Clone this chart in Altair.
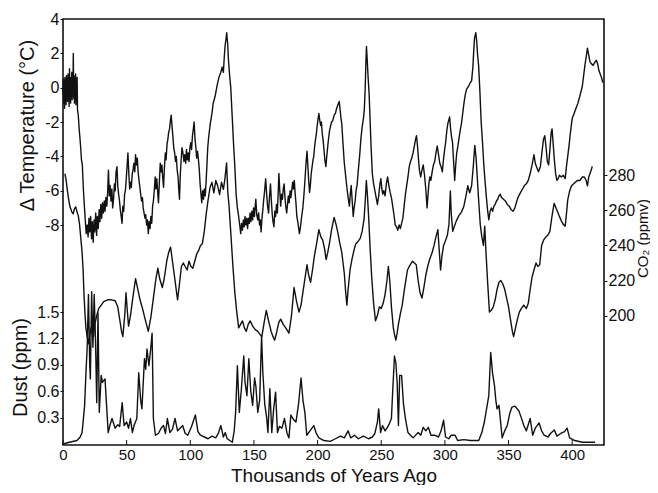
import altair as alt
import pandas as pd

# ---------------- data ----------------
temp_kyr = [0, 0.3, 0.6, 0.9, 1.2, 1.5, 1.8, 2.1, 2.4, 2.7, 3.0, 3.3, 3.6, 3.9, 4.2, 4.5, 4.8, 5.1, 5.4, 5.7,
            6.0, 6.3, 6.6, 6.9, 7.2, 7.5, 7.8, 8.1, 8.4, 8.7, 9.0, 9.3, 9.6, 9.9, 10.2, 10.5, 10.8, 11.1, 11.4,
            12, 12.7, 13.4, 14, 14.5, 15.2, 16, 16.8, 17.5, 18.2, 19, 19.7, 20.4, 21, 21.7, 22.4, 23, 23.7,
            24.4, 25, 25.7, 26.4, 27, 27.7, 28.4, 29, 29.7, 30.4, 31, 31.7, 32.4, 33, 33.7, 34.4, 35, 35.7,
            36.4, 37, 37.7, 38.4, 39, 39.7, 40.4, 41, 41.7, 42.4, 43, 43.7, 44.4, 45, 45.7, 46.4, 47, 47.7,
            48.4, 49, 49.7, 50.4, 51, 51.7, 52.4, 53, 53.7, 54.4, 55, 55.7, 56.4, 57, 57.7, 58.4, 59, 59.7,
            60.4, 61, 61.7, 62.4, 63, 63.7, 64.4, 65, 65.7, 66.4, 67, 67.7, 68.4, 69, 69.7, 70.4, 71, 71.7,
            72.4, 73, 73.7, 74.4, 75, 75.7, 76.4, 77, 77.7, 78.4, 79, 79.7, 80.4, 81, 81.7, 82.4, 83, 83.7,
            84.4, 85, 85.7, 86.4, 87, 87.7, 88.4, 89, 89.7, 90.4, 91, 91.5, 92.2, 92.8, 93.5, 94.2, 95, 95.7,
            96.4, 97, 97.7, 98.4, 99, 99.7, 100.4, 101, 101.7, 102.4, 103, 103.7, 104.4, 105, 105.7, 106.4,
            107, 107.7, 108.4, 109, 109.7, 110.4, 111, 111.7, 112.4, 113, 113.7, 114.4, 115.5, 117, 118,
            119.5, 121, 122.5, 124, 125, 126, 126.7, 127.4, 128, 128.6, 129.3, 130, 130.8, 131.8, 133, 134,
            135, 136, 137, 138, 139, 139.6, 140.3, 141, 141.7, 142.4, 143, 143.7, 144.4, 145, 145.7, 146.4,
            147, 147.7, 148.4, 149, 149.7, 150.4, 151, 151.5, 152.2, 153, 153.7, 154.4, 155, 155.6, 156.3,
            157, 157.7, 158.4, 159.2, 160, 160.7, 161.5, 162.2, 163, 163.7, 164.4, 165, 165.7, 166.4, 167,
            167.7, 168.4, 169, 169.6, 170.3, 171, 171.7, 172.4, 173, 173.7, 174.4, 175, 175.7, 176.4, 177,
            177.7, 178.4, 179, 179.7, 180.4, 181, 181.7, 182.4, 183, 183.7, 184.4, 185, 185.7, 186.4, 187,
            187.7, 188.4, 189, 189.7, 190.4, 191, 191.7, 192.4, 193, 193.7, 194.4, 195, 195.7, 196.4, 197,
            197.7, 198.4, 199, 199.7, 200.4, 201, 201.7, 202.4, 203, 203.7, 204.4, 205, 205.7, 206.5, 207.2,
            208, 208.7, 209.4, 210, 211, 212, 213, 214, 215, 216, 217, 217.7, 218.4, 219, 220, 221, 222, 223,
            224, 225, 225.7, 226.4, 227.2, 228, 228.7, 229.5, 230.2, 231, 232, 233, 234, 235, 236, 236.7,
            237.4, 238, 238.4, 239, 239.7, 240.5, 241.2, 242, 243, 244, 245, 246, 247, 248, 249, 249.7,
            250.5, 251.2, 252, 253, 254, 255, 256, 257, 258, 259, 260, 261, 262, 263, 264, 265, 266, 267,
            268, 269, 270, 271, 272, 273, 274, 275, 276, 277, 277.7, 278.5, 279.2, 280, 281, 282, 283, 284,
            285, 286, 286.7, 287.4, 288.2, 289, 290, 291, 292, 293, 294, 295, 296, 297, 298, 299, 300, 300.6,
            301.5, 302.3, 303, 303.7, 304.5, 305.3, 306, 307, 307.7, 308.5, 309.3, 310, 311, 312, 313, 314,
            315, 316, 317, 318.7, 320, 321, 322, 322.7, 323.3, 324.3, 325, 325.7, 326.5, 327.5, 328.5,
            329.5, 330.5, 331.5, 332.5, 333.5, 334.5, 335.5, 336.5, 337.5, 338.5, 339.5, 340.5, 341.5,
            342.5, 343.5, 344.5, 346, 347.5, 349, 350.5, 352, 353.5, 355, 356.5, 358, 359.5, 361, 362.5,
            364, 365.5, 367, 368.5, 370, 371, 372, 373.5, 375, 376.5, 377.5, 378.5, 379.5, 380.5, 381.5,
            382.5, 383.5, 384.2, 385, 386, 387, 388, 389, 390, 391.5, 393, 394.5, 395.5, 396.5, 397.5,
            398.5, 400, 401.5, 403, 404.5, 406, 407, 408, 409, 410, 411, 412, 413, 414, 415, 416.5, 418,
            419, 420, 421, 422, 423, 424]
temp_c = [-0.4, 0.5, -0.9, 0.3, -1.2, 0.6, -0.5, 0.2, -1.0, 0.7, -0.3, 0.4, -0.8, 0.8, -0.6, 0.3, -1.1, 1.1,
          -0.2, 0.5, -0.9, 0.6, -0.4, 0.9, -0.7, 0.4, -0.3, 2.0, -0.6, 0.7, -0.9, 0.5, -0.4, 0.8, -1.0, 0.4,
          -0.6, 0.6, -1.3,
          -1.6, -2.4, -3.0, -3.6, -4.2, -4.5, -5.9, -6.9, -7.7, -8.5, -8.0, -8.7, -7.6, -8.4, -7.5, -8.8,
          -7.8, -9.0, -7.7, -8.4, -7.3, -8.6, -7.5, -8.2, -7.1, -7.8, -6.8, -7.6, -6.7, -7.3, -6.6, -7.2,
          -6.4, -6.9, -6.2, -4.8, -6.3, -5.7, -6.6, -5.9, -7.0, -6.5, -5.6, -6.0, -4.9, -4.6, -5.7, -6.2,
          -6.6, -7.1, -7.5, -7.9, -6.9, -7.2, -6.2, -6.0, -5.3, -4.5, -3.8, -5.0, -5.9, -5.5, -5.8, -5.0,
          -4.8, -4.4, -4.9, -3.9, -4.5, -4.1, -4.9, -5.4, -5.8, -6.2, -6.6, -6.4, -7.0, -7.3, -7.6, -7.4,
          -8.0, -7.7, -8.5, -7.8, -8.2, -7.5, -7.9, -6.9, -6.6, -6.0, -5.2, -5.9, -5.3, -6.1, -6.7, -5.5,
          -4.4, -4.9, -4.5, -5.3, -5.8, -4.6, -3.8, -4.2, -3.3, -3.0, -2.6, -2.4, -1.9, -1.6, -2.3, -2.9,
          -3.5, -3.8, -4.3, -4.0, -4.8, -5.2, -6.0, -6.5, -5.0, -4.2, -3.5, -3.8, -4.3, -3.9, -4.4, -3.6,
          -4.2, -3.8, -4.3, -3.5, -3.2, -3.6, -2.8, -2.4, -2.0, -3.0, -3.5, -4.1, -3.7, -4.2, -4.7, -5.6,
          -6.2, -6.7, -6.0, -6.5, -5.9, -6.3, -5.5, -4.6, -3.5, -2.9, -2.2, -1.5, -0.9, -0.5, 0.1, 0.6,
          0.9, 1.2, 0.9, 1.8, 2.5, 2.8, 3.2, 2.6, 1.6, 0.8, 0.0, -1.8, -3.3, -4.6, -6.2, -7.0, -7.5, -8.1,
          -8.5, -7.9, -8.3, -7.7, -8.1, -7.5, -8.0, -7.6, -8.2, -7.6, -7.9, -7.3, -7.8, -7.2, -7.7, -7.0,
          -7.5, -6.9, -6.5, -7.4, -7.7, -7.3, -8.0, -7.7, -8.4, -7.6, -7.1, -6.5, -6.0, -5.3, -6.2, -6.9,
          -7.3, -6.4, -5.6, -6.6, -7.4, -7.8, -8.1, -7.2, -7.5, -6.8, -7.3, -6.2, -5.0, -6.0, -6.9, -6.2,
          -6.5, -5.9, -5.6, -6.4, -6.9, -7.3, -6.8, -6.3, -6.7, -6.0, -6.4, -6.0, -5.5, -5.9, -5.4, -6.2,
          -6.7, -7.5, -7.8, -8.1, -8.5, -8.2, -7.8, -7.4, -7.0, -6.5, -5.8, -5.0, -4.3, -3.7, -4.6, -5.4,
          -6.1, -5.6, -5.0, -4.6, -4.2, -4.0, -3.4, -3.0, -2.7, -2.2, -1.8, -1.5, -1.9, -2.2, -2.0, -2.7,
          -3.1, -3.6, -4.2, -4.6, -4.0, -3.4, -2.9, -2.5, -2.3, -2.0, -1.9, -1.6, -1.5, -1.2, -1.0, -0.8,
          -1.3, -1.8, -2.1, -3.3, -4.4, -5.1, -5.8, -6.4, -6.9, -6.2, -5.7, -6.6, -7.5, -7.0, -6.6, -6.0,
          -5.7, -4.8, -4.0, -3.0, -2.3, -1.8, -1.3, 0.0, 1.6, 2.4, 1.6, 0.6, -0.4, -1.8, -3.4, -5.0, -5.6,
          -6.0, -6.4, -6.8, -6.3, -5.6, -5.3, -5.9, -6.2, -6.0, -6.3, -5.6, -5.2, -5.7, -6.1, -6.4, -6.9,
          -7.4, -8.0, -8.1, -8.3, -8.0, -8.2, -7.9, -7.6, -6.9, -6.2, -5.7, -5.2, -4.6, -4.3, -4.1, -3.8,
          -3.4, -3.0, -2.8, -3.4, -4.1, -4.8, -5.2, -4.8, -4.5, -5.1, -5.9, -7.0, -6.3, -5.6, -5.2, -5.4,
          -4.9, -4.5, -4.3, -3.8, -3.4, -3.9, -4.4, -4.6, -4.9, -4.1, -3.5, -3.2, -2.5, -2.1, -1.9, -1.7,
          -2.4, -2.9, -3.2, -4.5, -5.4, -4.5, -3.8, -3.5, -3.0, -2.5, -2.1, -1.5, -0.9, -0.4, -0.1, 0.1,
          0.3, 0.4, 1.2, 2.2, 2.9, 3.2, 2.7, 1.9, 1.3, -0.2, -2.0, -3.1, -4.4, -5.4, -6.3, -7.1, -7.7,
          -7.2, -7.0, -7.2, -6.9, -6.8, -6.6, -6.5, -6.3, -6.2, -6.4, -6.5, -6.6, -6.8, -6.9, -7.1, -7.2,
          -7.0, -6.6, -6.3, -6.1, -5.9, -5.7, -5.6, -5.4, -5.0, -4.5, -3.9, -4.4, -4.6, -4.9, -4.6, -3.6,
          -3.0, -2.8, -3.5, -4.3, -4.5, -3.6, -2.6, -2.4, -3.2, -4.2, -5.0, -5.4, -5.3, -5.1, -5.2, -5.1,
          -5.3, -4.6, -4.0, -3.4, -2.7, -1.8, -1.5, -1.2, -0.9, -0.5, -0.2, 0.1, 0.7, 1.3, 1.8, 2.3, 1.9,
          1.5, 1.4, 1.3, 1.5, 1.6, 1.4, 1.0, 0.8, 0.6, 0.3]

co2_kyr = [1.5, 2.5, 3.5, 4.5, 5.5, 7, 8, 9, 10, 11, 12, 13, 14, 15, 15.8, 16.5, 17.2, 18, 19, 20, 21, 22,
           23, 24, 25, 26.5, 28, 30, 32, 35, 38, 41, 43, 44.5, 46, 47, 48.5, 49.5, 50.5, 51.5, 53, 55, 57,
           58.5, 60.5, 62.5, 64.5, 67, 69, 71, 73, 74.5, 76, 78, 79.5, 81.5, 83, 84.5, 86, 88, 90, 91.5, 93,
           94.5, 96, 97.5, 99, 100.5, 102, 103.5, 105, 106.5, 108, 109.5, 111, 112.5, 114, 115.5, 117,
           118.5, 120, 121.5, 123, 124.5, 126, 127.2, 128.5, 129.5, 130.5, 132, 133.5, 135, 136.5, 138,
           139.5, 141, 142.5, 144, 145.5, 147, 149, 151, 153, 155, 156.2, 158, 159.7, 161.5, 163.5, 165,
           166.3, 168, 169.5, 171, 173, 175, 177.5, 179.5, 181.5, 183.5, 185.4, 187, 189, 191.7, 193, 194.5,
           196, 197.5, 199, 201, 202.5, 204, 205.5, 206.7, 208, 209.5, 211, 213, 214.5, 216, 217.5, 219,
           220, 221, 222, 223, 224, 225.5, 227, 228.5, 230, 231.5, 233.5, 235, 236.5, 237.5, 238.3, 239.2,
           240.2, 241.3, 242.5, 244, 245.5, 247, 248.5, 250, 251.5, 253, 254.5, 255.6, 256.7, 258, 259.5,
           260.5, 261.5, 262.5, 263.5, 265, 266.5, 268, 269.5, 270.6, 272, 274.6, 276, 277.5, 279, 280.5,
           282, 283.5, 285, 286.5, 288, 290, 291.5, 293, 294.5, 295.5, 296.6, 297.7, 299, 300.6, 302,
           303.2, 304.3, 305, 306.2, 307.5, 309, 311, 313, 314.8, 316.5, 318, 319.5, 321, 322.3, 323.5,
           324.5, 325.5, 326.5, 327.8, 329, 330.3, 331.3, 332.3, 333.5, 335, 336.5, 338, 339.5, 341,
           342.5, 344, 345.5, 347, 348.5, 350, 351.5, 353, 354, 355.5, 357, 358.5, 360, 362, 364, 365.5,
           367, 368.5, 370, 371.6, 373, 374.5, 376, 377.5, 379.5, 381, 382.5, 384, 385.8, 387.5, 389.7,
           391.5, 393, 394.5, 395.5, 396.5, 398, 399.5, 401, 402.5, 404, 406, 408, 409.5, 411, 412, 413,
           414.5, 415.8]
co2_ppmv = [281, 277, 271, 266, 262, 259, 258, 261, 262, 259, 257, 252, 244, 236, 226, 212, 202, 193, 188,
            184, 189, 193, 190, 188, 195, 200, 204, 206, 208, 209, 209, 208.5, 205, 198, 191, 188, 200, 213,
            203, 194, 200, 211, 221, 216, 209, 204, 198, 191, 199, 210, 221, 227, 221, 216, 221, 231, 236,
            239, 231, 220, 209, 218, 228, 230, 228, 226, 231, 228, 227, 231, 235, 237, 240, 241, 248, 258,
            266, 273, 276, 270, 277, 274, 269, 276, 272, 278, 287, 270, 262, 245, 228, 213, 202, 193, 195,
            197, 193, 191, 195, 197, 194, 192, 191, 189, 188, 196, 203, 197, 191, 188, 186, 191, 196, 198,
            195, 193, 190, 200, 216, 208, 202, 206, 216, 229, 223, 219, 226, 234, 240, 249, 245, 243, 238,
            232, 236, 242, 249, 256, 252, 247, 241, 236, 230, 224, 214, 206, 215, 226, 232, 237, 241, 242,
            244, 248, 255, 266, 277, 268, 255, 238, 222, 207, 197, 200, 205, 204, 207, 212, 220, 228, 220,
            205, 193, 189, 186, 190, 195, 201, 206, 214, 221, 226, 228, 231, 230, 229, 220, 213, 210, 216,
            223, 228, 232, 236, 240, 245, 249, 238, 226, 234, 240, 243, 246, 252, 271, 258, 248, 251, 254,
            257, 259, 262, 268, 274, 270, 274, 285, 297, 290, 278, 266, 252, 245, 240, 251, 236, 220, 202,
            203, 205, 209, 215, 219, 220, 218, 215, 210, 205, 198, 191, 188, 193, 198, 202, 204, 206, 204,
            207, 215, 222, 226, 230, 228, 229, 240, 243, 245, 246, 248, 256, 264, 261, 257, 254, 252, 251,
            258, 266, 271, 274, 275, 276, 277, 277, 279, 279, 277, 274, 279, 282, 285]

dust_kyr = [0, 5, 11, 13.5, 15, 17, 18, 19, 20, 21, 21.5, 22.5, 23.5, 24.5, 25.5, 26.5, 27.5, 28.5, 30, 31,
            33, 35.5, 37, 38.5, 41, 43, 44.5, 46.5, 48, 50, 51.5, 53, 54.5, 56, 58, 59.5, 61, 62, 64, 65, 66,
            67.5, 69, 70, 71, 72.6, 75, 77, 79, 80.5, 82, 84, 86, 88, 90, 92, 94, 96, 98, 101, 104, 106, 108,
            111, 114, 117, 120, 122, 124, 126, 127.5, 129, 131, 133, 134.5, 135.6, 137, 138.5, 140, 142, 143,
            144.5, 146, 147.5, 149, 150.5, 151.5, 153, 154.5, 156, 157, 158.5, 160, 161, 162.5, 164, 165.5,
            167, 168.5, 170, 172, 174, 176, 177.5, 179, 181, 183, 185, 187, 188.5, 190, 191.5, 194, 197, 199,
            201, 205, 210, 214, 218, 221, 224, 226, 229, 232, 236, 240, 243, 245, 247, 248, 249.5, 251, 253,
            254.5, 256, 258, 259, 260.4, 261.5, 262.5, 263.5, 264.5, 266, 267.5, 269, 271, 273, 275, 279, 281,
            283, 285, 287, 289, 292, 295, 297, 299, 300.5, 303, 305, 308, 310, 315, 320, 326.6, 329, 331,
            334.5, 336, 337.5, 339, 340, 341, 342.5, 345, 347, 349, 351, 352.7, 355, 358, 360, 362, 364, 367,
            369, 371, 374, 376, 378, 381, 383, 386, 388, 391, 394, 396, 398, 402, 408, 418]
dust_ppm = [0.0, 0.02, 0.04, 0.08, 0.13, 0.44, 0.8, 1.1, 1.7, 0.9, 0.74, 1.73, 1.1, 1.7, 1.2, 0.47, 1.49,
            0.36, 0.78, 0.7, 0.74, 0.13, 0.22, 0.29, 0.18, 0.22, 0.2, 0.47, 0.21, 0.25, 0.18, 0.29, 0.13,
            0.22, 0.29, 0.81, 0.5, 0.4, 0.97, 0.85, 1.08, 0.89, 1.1, 1.26, 0.29, 0.1, 0.12, 0.18, 0.21, 0.12,
            0.29, 0.13, 0.17, 0.29, 0.15, 0.18, 0.21, 0.12, 0.1, 0.2, 0.33, 0.14, 0.1, 0.08, 0.06, 0.09, 0.07,
            0.12, 0.21, 0.08, 0.13, 0.06, 0.04, 0.02, 0.15, 0.36, 0.89, 0.36, 0.6, 1.0, 0.7, 0.55, 0.97, 0.6,
            0.44, 0.75, 0.66, 0.36, 0.5, 1.23, 0.81, 0.45, 0.3, 0.13, 0.63, 0.13, 0.4, 0.59, 0.13, 0.2, 0.18,
            0.29, 0.12, 0.07, 0.33, 0.28, 0.25, 0.45, 0.75, 0.5, 0.36, 0.1, 0.15, 0.21, 0.12, 0.07, 0.04,
            0.03, 0.06, 0.09, 0.07, 0.15, 0.07, 0.1, 0.06, 0.09, 0.06, 0.08, 0.12, 0.25, 0.4, 0.13, 0.21,
            0.15, 0.18, 0.22, 0.29, 0.6, 1.0, 0.92, 0.7, 0.21, 0.78, 0.78, 0.45, 0.29, 0.13, 0.1, 0.07, 0.13,
            0.1, 0.19, 0.15, 0.19, 0.1, 0.1, 0.08, 0.15, 0.27, 0.08, 0.06, 0.1, 0.1, 0.04, 0.05, 0.04, 0.04,
            0.13, 0.25, 0.55, 1.04, 0.8, 0.66, 0.5, 0.4, 0.44, 0.07, 0.15, 0.21, 0.35, 0.42, 0.43, 0.38,
            0.3, 0.21, 0.15, 0.29, 0.1, 0.18, 0.24, 0.15, 0.1, 0.08, 0.12, 0.16, 0.09, 0.12, 0.14, 0.18,
            0.07, 0.04, 0.02, 0.02]

x_ticks = [0, 50, 100, 150, 200, 250, 300, 350, 400]
temp_ticks = [-8, -6, -4, -2, 0, 2, 4]
co2_ticks = [200, 220, 240, 260, 280]
dust_ticks = [0.3, 0.6, 0.9, 1.2, 1.5]

# ---------------- chart ----------------
FONT = "Liberation Sans"
INK = "#111111"
H = 426

temp_df = pd.DataFrame({"kyr": temp_kyr, "value": temp_c})
co2_df = pd.DataFrame({"kyr": co2_kyr, "value": co2_ppmv})
dust_df = pd.DataFrame({"kyr": dust_kyr, "value": dust_ppm})
tick_df = pd.DataFrame({"kyr": x_ticks})

x_scale = alt.Scale(domain=[0, 425], nice=False, zero=False)
x_axis = alt.Axis(values=x_ticks, title="Thousands of Years Ago", ticks=False, domain=False, grid=False,
                  labelFontSize=15, labelPadding=2, labelFlush=False,
                  titleFontSize=19, titleFontWeight="normal", titleY=36, titleBaseline="alphabetic")


def xenc():
    return alt.X("kyr:Q", scale=x_scale, axis=x_axis)


line_kw = dict(color=INK, strokeWidth=1.4, strokeJoin="round")

temp = alt.Chart(temp_df).mark_line(**line_kw).encode(
    x=xenc(),
    y=alt.Y("value:Q", scale=alt.Scale(domain=[-20.81, 4], nice=False, zero=False),
            axis=alt.Axis(orient="left", values=temp_ticks, title="Δ Temperature (°C)", domain=False,
                          grid=False, tickSize=3, labelPadding=1, labelFontSize=16,
                          labelExpr="'' + datum.value",
                          titleAngle=270, titleX=-36, titleY=106, titleAlign="center",
                          titleBaseline="middle", titleFontSize=20, titleFontWeight="normal")),
)

co2 = alt.Chart(co2_df).mark_line(**line_kw).encode(
    x=xenc(),
    y=alt.Y("value:Q", scale=alt.Scale(domain=[126.24, 369.08], nice=False, zero=False),
            axis=alt.Axis(orient="right", values=co2_ticks, title="CO₂ (ppmv)", domain=False,
                          grid=False, tickSize=3, labelPadding=1, labelFontSize=16,
                          titleAngle=270, titleX=38, titleY=219, titleAlign="center",
                          titleBaseline="middle", titleFontSize=15, titleFontWeight="normal")),
)

dust = alt.Chart(dust_df).mark_line(**line_kw).encode(
    x=xenc(),
    y=alt.Y("value:Q", scale=alt.Scale(domain=[-0.011, 4.83], nice=False, zero=False),
            axis=alt.Axis(orient="left", values=dust_ticks, title="Dust (ppm)", domain=False,
                          grid=False, tickSize=3, labelPadding=1, labelFontSize=16,
                          labelExpr="format(datum.value, '.1f')",
                          titleAngle=270, titleX=-43, titleY=348, titleAlign="center",
                          titleBaseline="middle", titleFontSize=20, titleFontWeight="normal")),
)

xticks = alt.Chart(tick_df).mark_rule(color=INK, strokeWidth=1).encode(
    x=xenc(),
    y=alt.value(H),
    y2=alt.value(H - 5),
)

chart = alt.layer(temp, co2, dust, xticks).resolve_scale(y="independent").resolve_axis(
    y="independent"
).properties(
    width=541,
    height=H,
    autosize=alt.AutoSizeParams(type="none"),
    padding={"left": 55, "top": 11, "right": 46, "bottom": 40},
    background="white",
).configure_view(
    stroke=INK, strokeWidth=1.6
).configure_axis(
    labelFont=FONT, titleFont=FONT, labelColor=INK, titleColor=INK, tickColor=INK
)

chart.save("out.html", embed_options={"renderer": "svg", "actions": False})
